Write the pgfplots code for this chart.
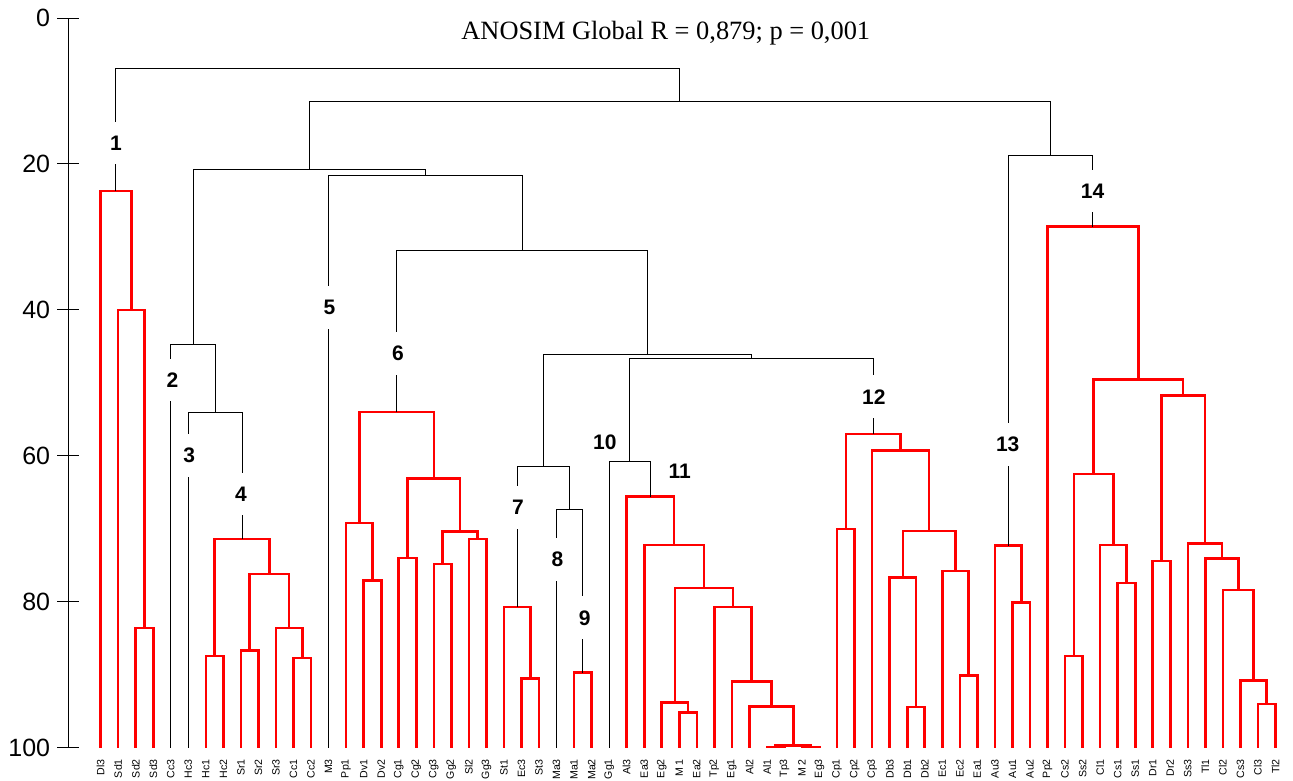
\documentclass[border=0pt]{standalone}
\usepackage{fontspec}
\setmainfont{Liberation Serif}
\setsansfont{Liberation Sans}
\usepackage{pgfplots}
\pgfplotsset{compat=1.18}
\tikzset{rb/.style={red, line width=1.3pt, mark=none},
         bb/.style={black, line width=0.5pt, mark=none},
         gl/.style={font=\sffamily\bfseries\fontsize{10.5}{12}\selectfont, fill=white, inner xsep=1pt, inner ysep=7pt},
         gln/.style={font=\sffamily\bfseries\fontsize{10.5}{12}\selectfont, inner sep=1pt}}
\begin{document}
\begin{tikzpicture}
\begin{axis}[
  scale only axis, width=612.6pt, height=365pt,
  xmin=-1.85, xmax=68, ymin=0, ymax=100, y dir=reverse,
  axis y line*=left, axis x line*=bottom,
  x axis line style={draw=none},
  y axis line style={black, line width=0.5pt},
  xtick={0,...,67},
  xticklabels={Dl3,Sd1,Sd2,Sd3,Cc3,Hc3,Hc1,Hc2,Sr1,Sr2,Sr3,Cc1,Cc2,M3,Pp1,Dv1,Dv2,Cg1,Cg2,Cg3,Gg2,Sl2,Gg3,St1,Ec3,St3,Ma3,Ma1,Ma2,Gg1,Al3,Ea3,Eg2,M 1,Ea2,Tp2,Eg1,Al2,Al1,Tp3,M 2,Eg3,Cp1,Cp2,Cp3,Db3,Db1,Db2,Ec1,Ec2,Ea1,Au3,Au1,Au2,Pp2,Cs2,Ss2,Cl1,Cs1,Ss1,Dr1,Dr2,Ss3,Tl1,Cl2,Cs3,Cl3,Tl2},
  xtick style={draw=none},
  ytick={0,20,40,60,80,100},
  ytick style={black, line width=0.5pt},
  major tick length=11pt, tick align=center,
  /pgf/number format/assume math mode=true,
  yticklabel style={font=\sffamily\fontsize{12.5}{14}\selectfont},
  xticklabel style={font=\sffamily\fontsize{5.3}{6}\selectfont, rotate=90, anchor=east, inner sep=0pt},
  clip=false,
]
% ---- group 1 (red)
\addplot[rb] coordinates {(2,100)(2,83.6)(3,83.6)(3,100)};
\addplot[rb] coordinates {(1,100)(1,40.0)(2.5,40.0)(2.5,83.6)};
\addplot[rb] coordinates {(0,100)(0,23.7)(1.75,23.7)(1.75,40.0)};
% ---- group 4
\addplot[rb] coordinates {(6,100)(6,87.4)(7,87.4)(7,100)};
\addplot[rb] coordinates {(8,100)(8,86.7)(9,86.7)(9,100)};
\addplot[rb] coordinates {(11,100)(11,87.7)(12,87.7)(12,100)};
\addplot[rb] coordinates {(10,100)(10,83.6)(11.5,83.6)(11.5,87.7)};
\addplot[rb] coordinates {(8.5,86.7)(8.5,76.2)(10.75,76.2)(10.75,83.6)};
\addplot[rb] coordinates {(6.5,87.4)(6.5,71.4)(9.625,71.4)(9.625,76.2)};
% ---- group 6
\addplot[rb] coordinates {(15,100)(15,77.1)(16,77.1)(16,100)};
\addplot[rb] coordinates {(14,100)(14,69.2)(15.5,69.2)(15.5,77.1)};
\addplot[rb] coordinates {(17,100)(17,74.0)(18,74.0)(18,100)};
\addplot[rb] coordinates {(19,100)(19,74.8)(20,74.8)(20,100)};
\addplot[rb] coordinates {(21,100)(21,71.4)(22,71.4)(22,100)};
\addplot[rb] coordinates {(19.5,74.8)(19.5,70.4)(21.5,70.4)(21.5,71.4)};
\addplot[rb] coordinates {(17.5,74.0)(17.5,63.1)(20.5,63.1)(20.5,70.4)};
\addplot[rb] coordinates {(14.75,69.2)(14.75,54.0)(19,54.0)(19,63.1)};
% ---- group 7
\addplot[rb] coordinates {(24,100)(24,90.5)(25,90.5)(25,100)};
\addplot[rb] coordinates {(23,100)(23,80.7)(24.5,80.7)(24.5,90.5)};
% ---- group 9
\addplot[rb] coordinates {(27,100)(27,89.7)(28,89.7)(28,100)};
% ---- group 11
\addplot[rb] coordinates {(33,100)(33,95.2)(34,95.2)(34,100)};
\addplot[rb] coordinates {(32,100)(32,93.8)(33.5,93.8)(33.5,95.2)};
\addplot[rb] coordinates {(38,100)(38,99.9)(39,99.9)(39,100)};
\addplot[rb] coordinates {(40,100)(40,99.9)(41,99.9)(41,100)};
\addplot[rb] coordinates {(38.5,99.9)(38.5,99.7)(40.5,99.7)(40.5,99.9)};
\addplot[rb] coordinates {(37,100)(37,94.3)(39.5,94.3)(39.5,99.7)};
\addplot[rb] coordinates {(36,100)(36,90.9)(38.25,90.9)(38.25,94.3)};
\addplot[rb] coordinates {(35,100)(35,80.7)(37.125,80.7)(37.125,90.9)};
\addplot[rb] coordinates {(32.75,93.8)(32.75,78.1)(36.06,78.1)(36.06,80.7)};
\addplot[rb] coordinates {(31,100)(31,72.2)(34.41,72.2)(34.41,78.1)};
\addplot[rb] coordinates {(30,100)(30,65.6)(32.70,65.6)(32.70,72.2)};
% ---- group 12
\addplot[rb] coordinates {(42,100)(42,70.0)(43,70.0)(43,100)};
\addplot[rb] coordinates {(46,100)(46,94.4)(47,94.4)(47,100)};
\addplot[rb] coordinates {(45,100)(45,76.7)(46.5,76.7)(46.5,94.4)};
\addplot[rb] coordinates {(49,100)(49,90.1)(50,90.1)(50,100)};
\addplot[rb] coordinates {(48,100)(48,75.8)(49.5,75.8)(49.5,90.1)};
\addplot[rb] coordinates {(45.75,76.7)(45.75,70.3)(48.75,70.3)(48.75,75.8)};
\addplot[rb] coordinates {(44,100)(44,59.3)(47.25,59.3)(47.25,70.3)};
\addplot[rb] coordinates {(42.5,70.0)(42.5,57.0)(45.625,57.0)(45.625,59.3)};
% ---- group 13
\addplot[rb] coordinates {(52,100)(52,80.1)(53,80.1)(53,100)};
\addplot[rb] coordinates {(51,100)(51,72.3)(52.5,72.3)(52.5,80.1)};
% ---- group 14
\addplot[rb] coordinates {(55,100)(55,87.4)(56,87.4)(56,100)};
\addplot[rb] coordinates {(58,100)(58,77.4)(59,77.4)(59,100)};
\addplot[rb] coordinates {(57,100)(57,72.2)(58.5,72.2)(58.5,77.4)};
\addplot[rb] coordinates {(55.5,87.4)(55.5,62.5)(57.75,62.5)(57.75,72.2)};
\addplot[rb] coordinates {(60,100)(60,74.4)(61,74.4)(61,100)};
\addplot[rb] coordinates {(66,100)(66,94.0)(67,94.0)(67,100)};
\addplot[rb] coordinates {(65,100)(65,90.8)(66.5,90.8)(66.5,94.0)};
\addplot[rb] coordinates {(64,100)(64,78.4)(65.75,78.4)(65.75,90.8)};
\addplot[rb] coordinates {(63,100)(63,74.1)(64.875,74.1)(64.875,78.4)};
\addplot[rb] coordinates {(62,100)(62,72.0)(63.94,72.0)(63.94,74.1)};
\addplot[rb] coordinates {(60.5,74.4)(60.5,51.7)(62.97,51.7)(62.97,72.0)};
\addplot[rb] coordinates {(56.625,62.5)(56.625,49.5)(61.73,49.5)(61.73,51.7)};
\addplot[rb] coordinates {(54,100)(54,28.6)(59.18,28.6)(59.18,49.5)};
% ---- black links between groups
\addplot[bb] coordinates {(26,100)(26,67.3)(27.5,67.3)(27.5,89.7)};
\addplot[bb] coordinates {(23.75,80.7)(23.75,61.4)(26.75,61.4)(26.75,67.3)};
\addplot[bb] coordinates {(29,100)(29,60.8)(31.35,60.8)(31.35,65.6)};
\addplot[bb] coordinates {(30.18,60.8)(30.18,46.7)(44.06,46.7)(44.06,57.0)};
\addplot[bb] coordinates {(25.25,61.4)(25.25,46.1)(37.12,46.1)(37.12,46.7)};
\addplot[bb] coordinates {(16.875,54.0)(16.875,31.9)(31.19,31.9)(31.19,46.1)};
\addplot[bb] coordinates {(13,100)(13,21.6)(24.03,21.6)(24.03,31.9)};
\addplot[bb] coordinates {(5,100)(5,54.0)(8.0625,54.0)(8.0625,71.4)};
\addplot[bb] coordinates {(4,100)(4,44.7)(6.53,44.7)(6.53,54.0)};
\addplot[bb] coordinates {(5.27,44.7)(5.27,20.8)(18.52,20.8)(18.52,21.6)};
\addplot[bb] coordinates {(51.75,72.3)(51.75,18.9)(56.59,18.9)(56.59,28.6)};
\addplot[bb] coordinates {(11.89,20.8)(11.89,11.5)(54.17,11.5)(54.17,18.9)};
\addplot[bb] coordinates {(0.875,23.7)(0.875,6.85)(33.03,6.85)(33.03,11.5)};
% ---- group numbers
\node[gl] at (axis cs:0.875,17.1) {1};
\node[gl] at (axis cs:4.1,49.6) {2};
\node[gl] at (axis cs:5.05,59.9) {3};
\node[gl] at (axis cs:8.0,65.2) {4};
\node[gl] at (axis cs:13.05,39.7) {5};
\node[gl] at (axis cs:16.95,46.0) {6};
\node[gl] at (axis cs:23.8,67.1) {7};
\node[gl] at (axis cs:26.05,74.2) {8};
\node[gl] at (axis cs:27.6,82.2) {9};
\node[gln] at (axis cs:28.75,58.2) {10};
\node[gln] at (axis cs:33.03,62.1) {11};
\node[gl] at (axis cs:44.09,51.9) {12};
\node[gl] at (axis cs:51.73,58.4) {13};
\node[gl] at (axis cs:56.57,23.7) {14};
% ---- title
\node[anchor=base, font=\rmfamily\fontsize{13.2}{15}\selectfont, inner sep=0pt] at (axis cs:32.23,3.0) {ANOSIM Global R = 0,879; p = 0,001};
\coordinate (bbsw) at (axis cs:-5.74,104.5);
\coordinate (bbne) at (axis cs:68.0,-2.47);
\end{axis}
\pgfresetboundingbox
\path[use as bounding box] (bbsw) rectangle (bbne);
\end{tikzpicture}
\end{document}
